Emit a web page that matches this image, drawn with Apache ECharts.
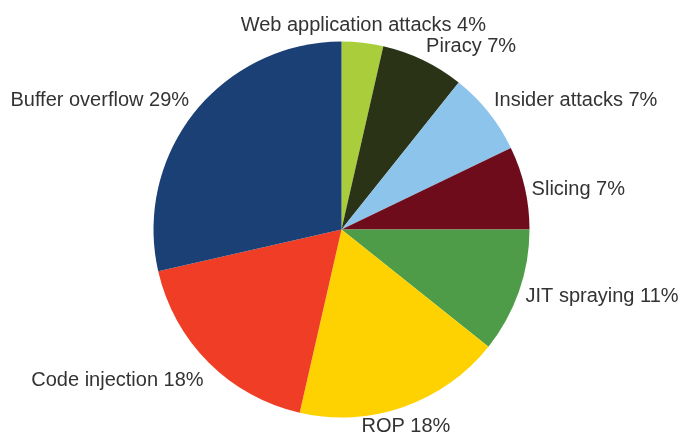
<!DOCTYPE html>
<html>
<head>
<meta charset="utf-8">
<script src="https://cdn.jsdelivr.net/npm/echarts@6/dist/echarts.min.js"></script>
<style>
  html, body { margin: 0; padding: 0; background: #fff; }
  #chart { width: 678px; height: 432px; }
</style>
</head>
<body>
<div id="chart"></div>
<script>
// attack types, clockwise from 12 o'clock
const categories = ['Web application attacks', 'Piracy', 'Insider attacks', 'Slicing',
  'JIT spraying', 'ROP', 'Code injection', 'Buffer overflow']
const counts = [1, 2, 2, 2, 3, 5, 5, 8]
const colors = ['#a9cd3b', '#2b3317', '#8cc4ec', '#6f0c1b',
  '#4f9c48', '#fed201', '#ef3e25', '#1b4075']

const cx = 341.5, cy = 229.5, radius = 188, labelGap = 7

const total = counts.reduce((a, b) => a + b, 0)
// mid angle of each slice, clockwise from top
const midAngles = []
let acc = 0
counts.forEach(v => {
  midAngles.push((acc + v / 2) / total * Math.PI * 2)
  acc += v
})

const chart = echarts.init(document.getElementById('chart'))
chart.setOption({
  animation: false,
  series: [{
    type: 'pie',
    center: [cx, cy],
    radius: radius,
    startAngle: 90,
    clockwise: true,
    avoidLabelOverlap: false,
    data: categories.map((name, i) => ({
      name, value: counts[i], itemStyle: { color: colors[i] }
    })),
    itemStyle: { borderWidth: 0 },
    emphasis: { disabled: true },
    label: {
      show: true,
      position: 'outside',
      overflow: 'none',
      color: '#333',
      fontFamily: "'Liberation Sans', Arial, sans-serif",
      fontSize: 20,
      formatter: p => p.name + ' ' + Math.round(p.value / total * 100) + '%'
    },
    labelLine: { show: false },
    labelLayout: params => {
      const a = midAngles[params.dataIndex]
      const s = Math.sin(a), c = Math.cos(a)
      const r = radius + labelGap
      const centered = Math.abs(s) <= 0.4
      return {
        x: cx + r * s,
        y: cy - r * c + (centered && c > 0 ? 0 : 3),
        align: s > 0.4 ? 'left' : (s < -0.4 ? 'right' : 'center'),
        verticalAlign: c > 0.5 ? 'bottom' : (c < -0.5 ? 'top' : 'middle')
      }
    }
  }]
})
</script>
</body>
</html>
